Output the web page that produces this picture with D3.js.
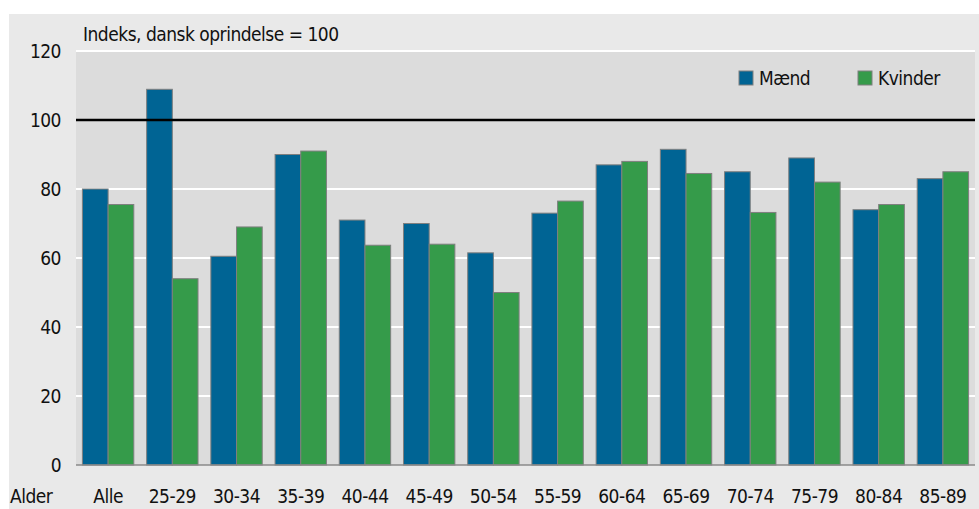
<!DOCTYPE html>
<meta charset="utf-8">
<style>
body { margin: 0; background: #fff; }
text { font-family: "DejaVu Sans Condensed", "Liberation Sans Narrow", sans-serif; fill: #111; letter-spacing: -0.5px; }
</style>
<body>
<script src="https://d3js.org/d3.v7.min.js"></script>
<script>

// data
var categories = ["Alle", "25-29", "30-34", "35-39", "40-44", "45-49", "50-54",
                  "55-59", "60-64", "65-69", "70-74", "75-79", "80-84", "85-89"];
var maend   = [80, 108.9, 60.5, 90, 71, 70, 61.5, 73, 87, 91.5, 85, 89, 74, 83];
var kvinder = [75.5, 54, 69, 91, 63.7, 64, 50, 76.5, 88, 84.5, 73.2, 82, 75.5, 85];
var yTicks = [0, 20, 40, 60, 80, 100, 120];
var seriesNames = ["Mænd", "Kvinder"];
var colors = ["#006494", "#359b4a"];

var W = 979, H = 509;
var plot = {left: 76, right: 975, top: 51, bottom: 465};

var svg = d3.select("body").append("svg")
    .attr("width", W)
    .attr("height", H);

// outer light grey panel
svg.append("rect")
    .attr("x", 9).attr("y", 14)
    .attr("width", W - 9).attr("height", H - 14)
    .attr("fill", "#e9e9e9");

// plot background
svg.append("rect")
    .attr("x", plot.left).attr("y", plot.top)
    .attr("width", plot.right - plot.left).attr("height", plot.bottom - plot.top)
    .attr("fill", "#dcdcdc");

var x0 = d3.scaleBand()
    .domain(categories)
    .range([plot.left, plot.right])
    .paddingInner(0.2)
    .paddingOuter(0.1);

var x1 = d3.scaleBand()
    .domain(seriesNames)
    .range([0, x0.bandwidth()]);

var y = d3.scaleLinear()
    .domain([0, 120])
    .range([plot.bottom, plot.top]);

// white gridlines
svg.append("g")
  .selectAll("line")
  .data(yTicks.filter(function(d) { return d > 0 && d != 100; }))
  .enter().append("line")
    .attr("x1", plot.left).attr("x2", plot.right)
    .attr("y1", function(d) { return y(d); })
    .attr("y2", function(d) { return y(d); })
    .attr("stroke", "#fff")
    .attr("stroke-width", 2);

// bars
var rows = categories.map(function(c, i) {
  return {cat: c, vals: [maend[i], kvinder[i]]};
});

var groups = svg.append("g").selectAll("g")
    .data(rows)
  .enter().append("g")
    .attr("transform", function(d) { return "translate(" + x0(d.cat) + ",0)"; });

groups.selectAll("rect")
    .data(function(d) { return d.vals.map(function(v, j) { return {name: seriesNames[j], value: v, j: j}; }); })
  .enter().append("rect")
    .attr("x", function(d) { return x1(d.name); })
    .attr("y", function(d) { return y(d.value); })
    .attr("width", x1.bandwidth())
    .attr("height", function(d) { return y(0) - y(d.value); })
    .attr("fill", function(d) { return colors[d.j]; })
    .attr("stroke", "#7f7f7f")
    .attr("stroke-width", 1);

// reference line at 100
svg.append("line")
    .attr("x1", plot.left).attr("x2", plot.right)
    .attr("y1", y(100)).attr("y2", y(100))
    .attr("stroke", "#000")
    .attr("stroke-width", 2.5);

// baseline
svg.append("line")
    .attr("x1", plot.left).attr("x2", plot.right)
    .attr("y1", y(0)).attr("y2", y(0))
    .attr("stroke", "#8a8a8a")
    .attr("stroke-width", 1.5);

// y axis labels
var yAxis = d3.axisLeft(y).tickValues(yTicks).tickSize(0).tickPadding(15);
var ya = svg.append("g")
    .attr("transform", "translate(" + plot.left + ",0)")
    .call(yAxis);
ya.select(".domain").remove();
ya.selectAll("text").style("font-size", "19px").attr("fill", "#111");

// x axis labels, on the same baseline as "Alder"
var xAxis = d3.axisBottom(x0).tickSize(0);
var xa = svg.append("g")
    .attr("transform", "translate(0," + plot.bottom + ")")
    .call(xAxis);
xa.select(".domain").remove();
xa.selectAll("text")
    .attr("y", 38).attr("dy", null)
    .style("font-size", "19px").attr("fill", "#111");

svg.append("text")
    .attr("x", 10).attr("y", plot.bottom + 38)
    .style("font-size", "19px")
    .text("Alder");

// subtitle
svg.append("text")
    .attr("x", 83).attr("y", 41)
    .style("font-size", "19px")
    .text("Indeks, dansk oprindelse = 100");

// legend
var legendX = [739, 858];
var legend = svg.append("g").selectAll("g")
    .data(seriesNames)
  .enter().append("g")
    .attr("transform", function(d, i) { return "translate(" + legendX[i] + ",71)"; });
legend.append("rect")
    .attr("width", 14).attr("height", 14)
    .attr("fill", function(d, i) { return colors[i]; })
    .attr("stroke", "#7f7f7f")
    .attr("stroke-width", 1);
legend.append("text")
    .attr("x", 20).attr("y", 14)
    .style("font-size", "19px")
    .text(function(d) { return d; });

</script>
</body>
